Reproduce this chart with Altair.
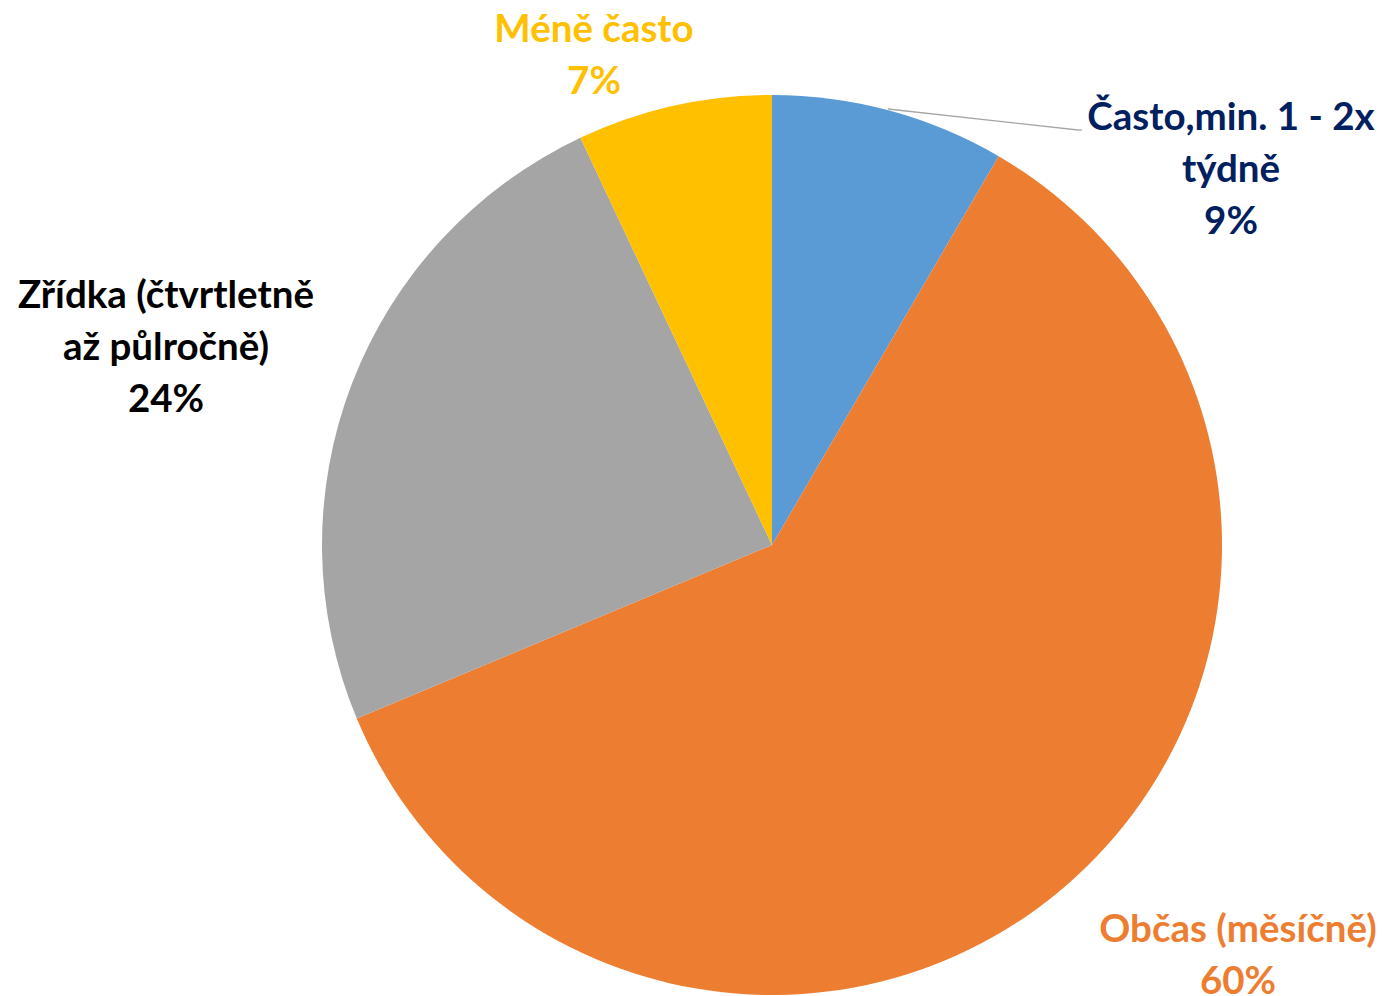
import altair as alt
import pandas as pd

categories = ["Často,min. 1 - 2x týdně", "Občas (měsíčně)", "Zřídka (čtvrtletně až půlročně)", "Méně často"]
values = [8.4, 60.3, 24.3, 7.0]
colors = ["#5B9BD5", "#ED7D31", "#A5A5A5", "#FFC000"]
label_lines = [
    ["Často,min. 1 - 2x", "týdně", "9%"],
    ["Občas (měsíčně)", "60%"],
    ["Zřídka (čtvrtletně", "až půlročně)", "24%"],
    ["Méně často", "7%"],
]
label_colors = ["#002060", "#ED7D31", "#000000", "#FFC000"]

df = pd.DataFrame({"cat": categories, "val": values, "order": list(range(len(categories)))})

W, H = 1370, 988
CX, CY = 764, 537
FONT = "Lato"
FS = 38.5

pie = alt.Chart(df).mark_arc(outerRadius=450, stroke=None).encode(
    theta=alt.Theta("val:Q", stack=True),
    order=alt.Order("order:Q"),
    color=alt.Color("cat:N", scale=alt.Scale(domain=categories, range=colors), legend=None),
    x=alt.value(CX),
    y=alt.value(CY),
)

leader = alt.Chart(pd.DataFrame({"a": [0]})).mark_rule(color="#A6A6A6", strokeWidth=1.3).encode(
    x=alt.value(880), y=alt.value(101), x2=alt.value(1070), y2=alt.value(122)
)
leader2 = alt.Chart(pd.DataFrame({"a": [0]})).mark_rule(color="#A6A6A6", strokeWidth=1.3).encode(
    x=alt.value(1070), y=alt.value(122), x2=alt.value(1074), y2=alt.value(122)
)

label_pos = [(1223, 122), (1230, 934), (158, 300), (586, 34)]

layers = [pie, leader, leader2]
for i, lines in enumerate(label_lines):
    x, y = label_pos[i]
    t = alt.Chart(pd.DataFrame({"t": ["\n".join(lines)]})).mark_text(
        font=FONT, fontSize=FS, fontWeight="bold", color=label_colors[i],
        align="center", baseline="alphabetic", lineBreak="\n", lineHeight=52,
    ).encode(text="t:N", x=alt.value(x), y=alt.value(y))
    layers.append(t)

chart = alt.layer(*layers).properties(
    width=W, height=H, autosize=alt.AutoSizeParams(type="none"), padding=0
).configure_view(stroke=None)

chart.save("out.html", embed_options={"renderer": "svg", "actions": False})
